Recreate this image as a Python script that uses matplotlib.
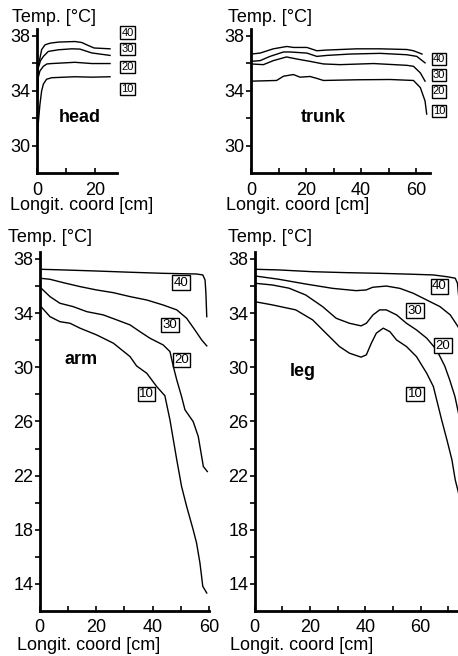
import matplotlib
matplotlib.use("Agg")
import matplotlib.pyplot as plt
from matplotlib.ticker import MultipleLocator, FixedLocator

plt.rcParams['font.family'] = ['Liberation Sans', 'DejaVu Sans']

# ---------------- data (longitudinal coordinate [cm], temperature [°C]) -------------
# labels of curves = ambient temperature
levels = ["10", "20", "30", "40"]

top_yticks = [30, 34, 38]
top_yminor = [32, 36]
bottom_yticks = [14, 18, 22, 26, 30, 34, 38]
bottom_yminor = [16, 20, 24, 28, 32, 36]

head_x10 = [0, 0.5, 1.0, 1.6, 2.2, 3.3, 5.1, 13, 19, 25.2]
head_y10 = [30.0, 31.8, 33.0, 34.0, 34.5, 34.85, 34.96, 35.03, 35.0, 35.03]
head_x20 = [0, 0.46, 1.0, 2.2, 3.4, 5.1, 13.1, 18.9, 25.2]
head_y20 = [32.0, 35.0, 35.45, 35.79, 35.96, 35.99, 36.08, 35.99, 35.99]
head_x30 = [0, 0.46, 1.2, 2.2, 3.9, 7.4, 12, 14.8, 18.9, 25.2]
head_y30 = [33.5, 35.68, 36.2, 36.51, 36.87, 36.99, 37.06, 37.04, 36.76, 36.58]
head_x40 = [0, 0.5, 1.03, 1.6, 2.76, 4.5, 7.4, 13.1, 15.4, 17.7, 19.7, 25.2]
head_y40 = [34.8, 35.9, 36.4, 37.0, 37.35, 37.47, 37.55, 37.59, 37.52, 37.3, 37.12, 37.06]

trunk_x10 = [0, 9.3, 11.8, 15.4, 17.8, 21.4, 23.9, 26.3, 38.4, 50.5, 59, 61.5, 63.2, 63.8]
trunk_y10 = [34.71, 34.76, 35.07, 35.19, 35.0, 35.05, 34.91, 34.76, 34.81, 34.83, 34.76, 34.24, 33.27, 32.32]
trunk_x20 = [0, 4.5, 8.1, 12.9, 16.6, 21.4, 26.3, 32.4, 44.5, 56.6, 59, 61.5, 63.2]
trunk_y20 = [35.96, 35.91, 36.2, 36.47, 36.32, 36.15, 35.96, 35.91, 35.99, 35.86, 35.79, 35.31, 34.71]
trunk_x30 = [0, 3.3, 6.9, 11.8, 14.2, 20.3, 23.9, 27.5, 36, 46.9, 56.6, 60.2, 63.2]
trunk_y30 = [36.15, 36.2, 36.51, 36.83, 36.83, 36.75, 36.51, 36.58, 36.68, 36.73, 36.63, 36.51, 36.04]
trunk_x40 = [0, 3.3, 8.1, 13, 15.4, 20.3, 23.9, 27.5, 32.4, 38.4, 46.9, 56.6, 59, 62.1]
trunk_y40 = [36.68, 36.75, 37.06, 37.23, 37.16, 37.16, 36.92, 36.97, 37.01, 37.06, 37.06, 37.01, 36.92, 36.68]

arm_x10 = [0, 3.7, 7.2, 10.8, 14.3, 20.2, 26.1, 32, 34.3, 37.9, 41.4, 44.3, 46.1, 47.3,
           48.5, 50.2, 52, 54.3, 55.5, 56.7, 57.7, 59.1]
arm_y10 = [34.6, 33.74, 33.37, 33.25, 32.89, 32.39, 31.78, 30.79, 30.1, 29.56, 28.58, 27.9,
           26.11, 24.64, 23.17, 21.2, 19.72, 18.0, 17.02, 15.54, 13.82, 13.33]
arm_x20 = [0, 3.7, 7.2, 11.9, 16.7, 22.5, 27.3, 32, 35.5, 39, 43.7, 46.1, 47.3, 48.5, 50.2,
           51.4, 54.3, 56.1, 57.3, 57.9, 59.3]
arm_y20 = [35.96, 35.22, 34.73, 34.48, 34.11, 33.87, 33.5, 33.13, 32.63, 32.15, 31.65, 31.16,
           30.05, 29.07, 27.84, 26.86, 25.99, 24.89, 23.41, 22.67, 22.3]
arm_x30 = [0, 3.7, 8.4, 14.3, 20.2, 26.1, 32, 37.9, 43.7, 48.5, 52, 54.9, 57.3, 59.1]
arm_y30 = [36.58, 36.5, 36.25, 35.96, 35.71, 35.51, 35.22, 34.97, 34.6, 34.24, 33.62, 32.76, 32.02, 31.58]
arm_x40 = [0, 8.4, 20.2, 32, 43.7, 55.5, 57.7, 58.5, 58.8, 59.1]
arm_y40 = [37.24, 37.19, 37.11, 37.02, 36.94, 36.89, 36.82, 36.45, 35.47, 33.74]

leg_x10 = [0, 6.4, 14.9, 21, 25.8, 30.7, 34.3, 38.5, 40.4, 42.2, 44, 46.5, 48.9, 51.3, 54.9,
           58.5, 62.2, 64.6, 65.8, 67.6, 69.5, 71.3, 72.5, 73.7, 74.2]
leg_y10 = [34.85, 34.61, 34.24, 33.5, 32.52, 31.53, 31.04, 30.75, 30.92, 31.78, 32.52, 32.89,
           32.63, 32.02, 31.53, 30.79, 29.56, 28.58, 27.59, 26.11, 24.64, 23.17, 21.69, 20.71, 19.9]
leg_x20 = [0, 6.4, 12.5, 18.5, 24.6, 29.5, 34.3, 38.5, 40.4, 42.8, 45.2, 47.6, 51.3, 54.9,
           58.5, 62.2, 65.8, 68.7, 70.5, 72.4, 73.9]
leg_y20 = [36.21, 36.08, 35.84, 35.34, 34.48, 33.62, 33.25, 33.06, 33.25, 33.87, 34.24, 34.24,
           33.87, 33.25, 32.76, 32.15, 31.28, 30.1, 29.07, 27.84, 26.4]
leg_x30 = [0, 8.8, 18.5, 28.2, 36.7, 40.3, 42.7, 47.6, 52.5, 57.3, 62.2, 67, 70.7, 73.1, 74.2]
leg_y30 = [36.75, 36.5, 36.15, 35.83, 35.66, 35.71, 35.91, 36.0, 35.83, 35.47, 34.97, 34.48,
           33.87, 33.13, 32.76]
leg_x40 = [0, 8.8, 21, 33.1, 45.2, 57.3, 64.6, 69.5, 72.5, 73.3, 73.7]
leg_y40 = [37.24, 37.19, 37.06, 36.99, 36.94, 36.87, 36.82, 36.69, 36.58, 36.21, 35.34]

y_label = "Temp. [°C]"
x_label = "Longit. coord [cm]"

# ---------------- layout ----------------
W, H = 458, 656
fig = plt.figure(figsize=(W / 100, H / 100), dpi=100)


def rect(l, r, t, b):
    return [l / W, 1 - b / H, (r - l) / W, (b - t) / H]


def ftext(x, y, s, **kw):
    return fig.text(x / W, 1 - y / H, s, **kw)


FS = 13


def style(ax, xlim, ylim, ymajor, yminor):
    ax.set_xlim(*xlim)
    ax.set_ylim(*ylim)
    for s in ("top", "right"):
        ax.spines[s].set_visible(False)
    for s in ("left", "bottom"):
        ax.spines[s].set_linewidth(2.0)
    ax.xaxis.set_major_locator(MultipleLocator(20))
    ax.xaxis.set_minor_locator(MultipleLocator(10))
    ax.yaxis.set_major_locator(FixedLocator(ymajor))
    ax.yaxis.set_minor_locator(FixedLocator(yminor))
    ax.tick_params(axis="y", which="both", direction="out", length=3.5, width=1.2,
                   labelsize=FS, pad=1)
    ax.tick_params(axis="x", which="both", direction="in", length=3.5, width=1.2,
                   labelsize=FS, pad=6)


panels = [
    dict(name="head", rect=(37, 117, 29, 173.5), xlim=(0, 27.6), ylim=(28, 38.5),
         ym=top_yticks, ymin=top_yminor,
         curves=[(head_x10, head_y10), (head_x20, head_y20), (head_x30, head_y30), (head_x40, head_y40)],
         name_pos=(80, 118), ylab=(12, 17.5), xlab=(10, 206),
         boxes=[(127.5, 89), (127.5, 67), (127.5, 49), (127.5, 32.5)], bfs=8),
    dict(name="trunk", rect=(251, 430, 29, 173.5), xlim=(0, 65), ylim=(28, 38.5),
         ym=top_yticks, ymin=top_yminor,
         curves=[(trunk_x10, trunk_y10), (trunk_x20, trunk_y20), (trunk_x30, trunk_y30), (trunk_x40, trunk_y40)],
         name_pos=(323.5, 118), ylab=(228, 17.5), xlab=(226, 206),
         boxes=[(439, 111), (439, 91.5), (439, 75), (439, 59)], bfs=8),
    dict(name="arm", rect=(39.5, 209.3, 252.2, 611), xlim=(0, 60), ylim=(12, 38.5),
         ym=bottom_yticks, ymin=bottom_yminor,
         curves=[(arm_x10, arm_y10), (arm_x20, arm_y20), (arm_x30, arm_y30), (arm_x40, arm_y40)],
         name_pos=(81.5, 359), ylab=(8, 237.5), xlab=(17, 646),
         boxes=[(146.3, 394), (181.7, 360), (170, 325), (181, 282.5)], bfs=9.5),
    dict(name="leg", rect=(254.5, 458, 252.2, 611), xlim=(0, 73.5), ylim=(12, 38.5),
         ym=bottom_yticks, ymin=bottom_yminor,
         curves=[(leg_x10, leg_y10), (leg_x20, leg_y20), (leg_x30, leg_y30), (leg_x40, leg_y40)],
         name_pos=(302.5, 372), ylab=(228, 237.5), xlab=(230, 646),
         boxes=[(415, 394), (443, 345.5), (415, 310.5), (439.5, 286.3)], bfs=9.5),
]

for p in panels:
    ax = fig.add_axes(rect(*p["rect"]))
    style(ax, p["xlim"], p["ylim"], p["ym"], p["ymin"])
    for xs, ys in p["curves"]:
        ax.plot(xs, ys, color="black", lw=1.0, solid_joinstyle="round")
    ftext(*p["name_pos"], p["name"], ha="center", va="center", fontsize=13, fontweight="bold")
    ftext(*p["ylab"], y_label, ha="left", va="center", fontsize=FS)
    ftext(*p["xlab"], x_label, ha="left", va="center", fontsize=FS)
    for (bx, by), lab in zip(p["boxes"], levels):
        ftext(bx, by, lab, ha="center", va="center", fontsize=p["bfs"],
              bbox=dict(boxstyle="square,pad=0.1", fc="white", ec="black", lw=1.0))

fig.savefig("out.png", dpi=100)
